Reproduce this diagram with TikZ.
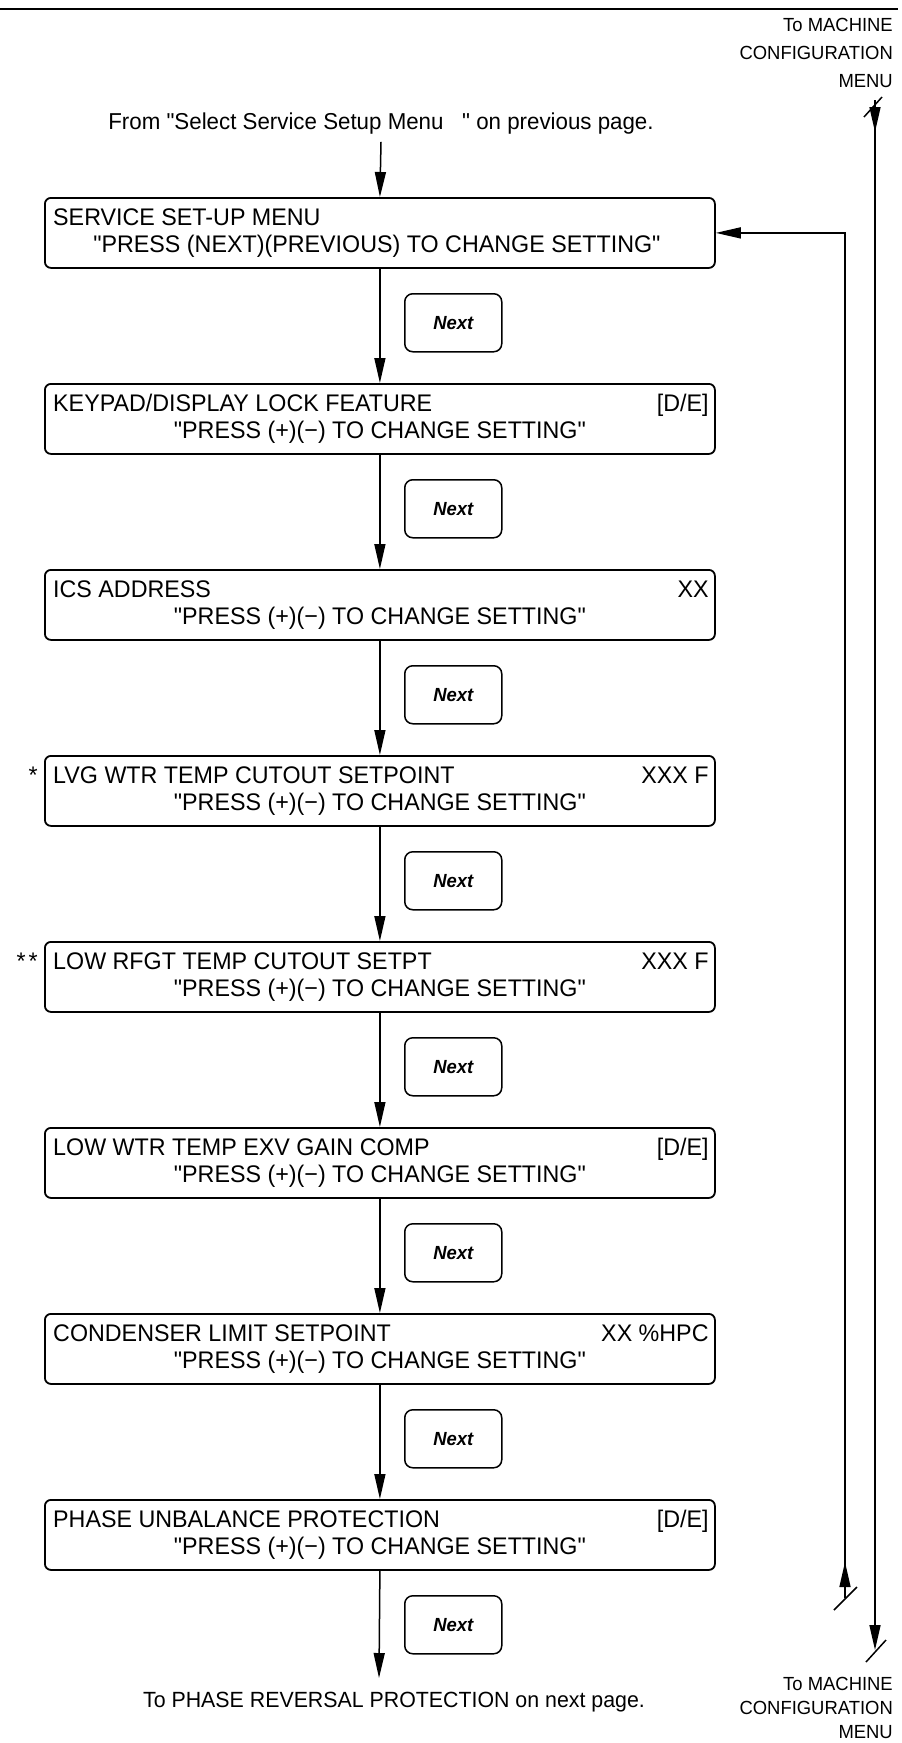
\documentclass[tikz,border=0pt]{standalone}
\usepackage{fontspec}
\setmainfont{Liberation Sans}[FakeStretch=0.97,Ligatures=TeXOff]
\usetikzlibrary{arrows.meta,calc}
\newcommand\menubox[5]{%
  \node[mbox] (#1) at (44,#2) {};
  \node[lt, anchor=base west] (#1a) at ($(#1.north west)+(9,28)$) {#3};
  \node[lt, anchor=base east] (#1b) at ($(#1.north east)+(-7,28)$) {#4};
  \node[lt, anchor=base] (#1c) at ($(#1.north)+(0,55)$) {#5};}
\newcommand\nextbox[2]{%
  \node[nbox] (#1) at (404,#2) {Next};}
\begin{document}
\begin{tikzpicture}[x=1pt,y=-1pt,
  mbox/.style={draw, rounded corners=6pt, minimum width=670pt, minimum height=70pt, inner sep=0pt, line width=1.8pt, anchor=north west},
  nbox/.style={draw, rounded corners=8pt, minimum width=97pt, minimum height=58pt, inner sep=0pt, line width=1.5pt, anchor=north west, font=\fontsize{19}{19}\selectfont\bfseries\itshape},
  lt/.style={inner sep=0pt, font=\fontsize{24}{24}\selectfont},
  lab/.style={inner sep=0pt, font=\fontsize{23}{23}\selectfont},
  rlab/.style={inner sep=0pt, font=\fontsize{19}{19}\selectfont, anchor=base east},
  conn/.style={line width=1.5pt},
  arr/.style={conn, -{Triangle[length=25pt,width=11pt]}},
]
\useasboundingbox (0,0) rectangle (902,1743);
\draw[line width=2.2pt] (0,9) -- (898,9);

% top right label
\node[rlab] (tma) at (893,31) {To MACHINE};
\node[rlab] (tmb) at (893,59) {CONFIGURATION};
\node[rlab] (tmc) at (893,87) {MENU};

% from label
\node[lab, anchor=base] (from) at (381,129) {From "Select Service Setup Menu\ \ \ " on previous page.};

% box 1
\node[mbox] (b1) at (44,197) {};
\node[lt, anchor=base west] (b1a) at ($(b1.north west)+(9,28)$) {SERVICE SET-UP MENU};
\node[lt, anchor=base] (b1c) at ($(b1.north)+(-3,55)$) {"PRESS (NEXT)(PREVIOUS) TO CHANGE SETTING"};

\menubox{b2}{383}{KEYPAD/DISPLAY LOCK FEATURE}{[D/E]}{"PRESS (+)(−) TO CHANGE SETTING"}
\menubox{b3}{569}{ICS ADDRESS}{XX}{"PRESS (+)(−) TO CHANGE SETTING"}
\menubox{b4}{755}{LVG WTR TEMP CUTOUT SETPOINT}{XXX F}{"PRESS (+)(−) TO CHANGE SETTING"}
\menubox{b5}{941}{LOW RFGT TEMP CUTOUT SETPT}{XXX F}{"PRESS (+)(−) TO CHANGE SETTING"}
\menubox{b6}{1127}{LOW WTR TEMP EXV GAIN COMP}{[D/E]}{"PRESS (+)(−) TO CHANGE SETTING"}
\menubox{b7}{1313}{CONDENSER LIMIT SETPOINT}{XX \%HPC}{"PRESS (+)(−) TO CHANGE SETTING"}
\menubox{b8}{1499}{PHASE UNBALANCE PROTECTION}{[D/E]}{"PRESS (+)(−) TO CHANGE SETTING"}

\node[lt, anchor=base east] (s1) at ($(b4.north west)+(-6,28)$) {*};
\node[lt, anchor=base east] (s2) at ($(b5.north west)+(-6,28)$) {*\kern3pt*};

\nextbox{n1}{293}
\nextbox{n2}{479}
\nextbox{n3}{665}
\nextbox{n4}{851}
\nextbox{n5}{1037}
\nextbox{n6}{1223}
\nextbox{n7}{1409}
\nextbox{n8}{1595}

% main flow arrows
\draw[arr] ($(from.south)+(0,8)$) -- (b1.north);
\draw[arr] (b1.south) -- (b2.north);
\draw[arr] (b2.south) -- (b3.north);
\draw[arr] (b3.south) -- (b4.north);
\draw[arr] (b4.south) -- (b5.north);
\draw[arr] (b5.south) -- (b6.north);
\draw[arr] (b6.south) -- (b7.north);
\draw[arr] (b7.south) -- (b8.north);
\coordinate (endflow) at (379,1678);
\draw[arr] (b8.south) -- (endflow);
\node[lab, anchor=base, font=\fontsize{22}{22}\selectfont] (tophase) at (394,1707) {To PHASE REVERSAL PROTECTION on next page.};

% right side: outer line to machine configuration menu
\coordinate (otop) at (875,100);
\coordinate (omid) at (875,132);
\coordinate (obot) at (875,1650);
\draw[arr] (otop) -- (obot);
\draw[arr] (otop) -- (omid);
\draw[conn] (864,117) -- (882,97);
\draw[conn] (866,1662) -- (886,1640);

% inner return line
\coordinate (ibot) at (845,1598);
\coordinate (iup) at (845,1562);
\draw[arr] (ibot) |- (b1.east);
\draw[arr] (ibot) -- (iup);
\draw[conn] (834,1610) -- (857,1587);

\node[rlab] (bma) at (893,1690) {To MACHINE};
\node[rlab] (bmb) at (893,1714) {CONFIGURATION};
\node[rlab] (bmc) at (893,1738) {MENU};
\end{tikzpicture}
\end{document}
